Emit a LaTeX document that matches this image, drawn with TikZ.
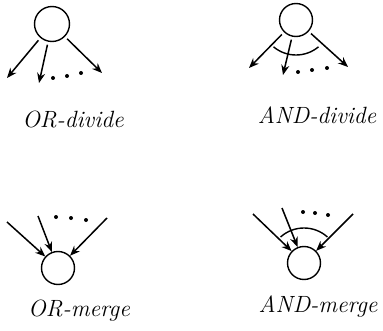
\documentclass[tikz,border=0pt]{standalone}
\usetikzlibrary{arrows.meta}
\tikzset{
  blob/.style={draw,circle,line width=1.4pt,minimum size=33pt,inner sep=0pt},
  lbl/.style={font=\fontsize{23.5}{26}\selectfont\itshape,anchor=base,inner sep=0pt},
  fl/.style={-{Stealth[length=10pt,width=8pt]},line width=1.5pt},
  fls/.style={fl,shorten <=3pt},
  jn/.style={line width=1.4pt},
}

\begin{document}
\begin{tikzpicture}[x=1pt,y=1pt]
\useasboundingbox (0,0) rectangle (383,330);
% OR-divide
\node[blob,minimum size=35pt] (ord) at (52,306) {};
\coordinate (ord-l) at (7,252);
\coordinate (ord-m) at (39,247);
\coordinate (ord-r) at (102,257);
\draw[fls] (ord) -- (ord-l);
\draw[fls] (ord) -- (ord-m);
\draw[fls] (ord) -- (ord-r);
\foreach \p in {(53,252),(67,254),(81,257)}
  \fill \p circle (2);
\node[lbl] (ord-t) at (73,202) {OR-divide};
% AND-divide
\node[blob] (and) at (296,310) {};
\coordinate (and-l) at (249,262);
\coordinate (and-m) at (283,255);
\coordinate (and-r) at (348,263);
\draw[fls] (and) -- (and-l);
\draw[fls] (and) -- (and-m);
\draw[fls] (and) -- (and-r);
\draw[jn] ([shift={(230:35)}]and.center) arc[start angle=230,end angle=310,radius=35];
\foreach \p in {(298,258),(312,260),(327,262)}
  \fill \p circle (2);
\node[lbl] (and-t) at (317,206) {AND-divide};
% OR-merge
\node[blob] (orm) at (58,62) {};
\coordinate (orm-l) at (7,108);
\coordinate (orm-m) at (38,114);
\coordinate (orm-r) at (107,112);
\draw[fl] (orm-l) -- (orm);
\draw[fl] (orm-m) -- (orm);
\draw[fl] (orm-r) -- (orm);
\foreach \p in {(56,113),(71,112),(86,110)}
  \fill \p circle (2);
\node[lbl] (orm-t) at (79,14) {OR-merge};
% AND-merge
\node[blob] (anm) at (304,67) {};
\coordinate (anm-l) at (253,116);
\coordinate (anm-m) at (282,122);
\coordinate (anm-r) at (353,116);
\draw[fl] (anm-l) -- (anm);
\draw[fl] (anm-m) -- (anm);
\draw[fl] (anm-r) -- (anm);
\draw[jn] ([shift={(48:35)}]anm.center) arc[start angle=48,end angle=132,radius=35];
\foreach \p in {(303,118),(315,117),(328,115)}
  \fill \p circle (2);
\node[lbl] (anm-t) at (318,18) {AND-merge};
\end{tikzpicture}
\end{document}
